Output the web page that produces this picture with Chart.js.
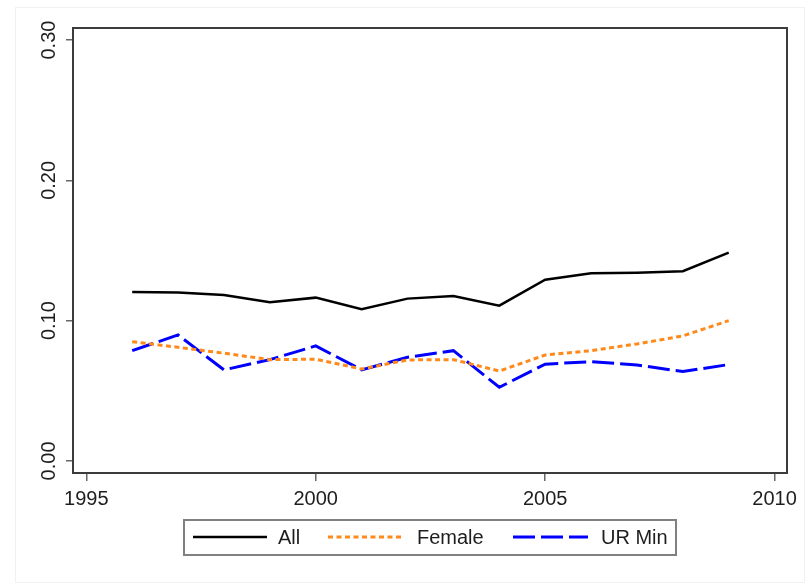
<!DOCTYPE html>
<html>
<head>
<meta charset="utf-8">
<script src="https://cdn.jsdelivr.net/npm/chart.js@4.4.0/dist/chart.umd.min.js"></script>
<style>
  html, body { margin:0; padding:0; background:#ffffff; }
  #wrap { position:relative; width:808px; height:585px; }
  #frame { position:absolute; left:15px; top:7px; width:790px; height:576px; border:1px solid #f1f1f1; box-sizing:border-box; }
  canvas { position:absolute; left:0; top:0; }
</style>
</head>
<body>
<div id="wrap">
  <div id="frame"></div>
  <canvas id="c" width="808" height="585"></canvas>
</div>
<script>
// ---- data ----
const years = [1996, 1997, 1998, 1999, 2000, 2001, 2002, 2003, 2004, 2005, 2006, 2007, 2008, 2009];
const allValues    = [0.1205, 0.1200, 0.1183, 0.1131, 0.1164, 0.1081, 0.1157, 0.1176, 0.1107, 0.1292, 0.1338, 0.1342, 0.1352, 0.1485];
const femaleValues = [0.0850, 0.0810, 0.0768, 0.0722, 0.0725, 0.0655, 0.0720, 0.0722, 0.0641, 0.0755, 0.0786, 0.0834, 0.0891, 0.1000];
const urMinValues  = [0.0786, 0.0898, 0.0649, 0.0722, 0.0820, 0.0649, 0.0739, 0.0786, 0.0525, 0.0690, 0.0708, 0.0684, 0.0637, 0.0687];
const seriesNames = ['All', 'Female', 'UR Min'];
const xTickValues = [1995, 2000, 2005, 2010];
const yTickValues = [0.00, 0.10, 0.20, 0.30];
const yTickLabels = ['0.00', '0.10', '0.20', '0.30'];

const FONT = '"Liberation Sans", Arial, sans-serif';
const TEXT = '#1e1e1e';

function pts(vals) { return years.map((y, i) => ({ x: y, y: vals[i] })); }

const boxAndLabels = {
  id: 'boxAndLabels',
  afterDraw(chart) {
    const ctx = chart.ctx;
    const a = chart.chartArea;
    // plot region frame
    ctx.save();
    ctx.strokeStyle = '#3c3c3c';
    ctx.lineWidth = 2;
    ctx.strokeRect(a.left, a.top, a.right - a.left, a.bottom - a.top);
    ctx.restore();

    // rotated y tick labels
    const ys = chart.scales.y;
    ctx.save();
    ctx.fillStyle = TEXT;
    ctx.font = '20px ' + FONT;
    ctx.textAlign = 'center';
    ctx.textBaseline = 'middle';
    yTickValues.forEach((v, i) => {
      const py = ys.getPixelForValue(v);
      ctx.save();
      ctx.translate(49, py);
      ctx.rotate(-Math.PI / 2);
      ctx.fillText(yTickLabels[i], 0, 0);
      ctx.restore();
    });
    ctx.restore();

    // legend
    ctx.save();
    ctx.strokeStyle = '#808080';
    ctx.lineWidth = 2;
    ctx.strokeRect(184, 520, 492, 35);
    const items = [
      { x0: 193, x1: 267, tx: 278 },
      { x0: 328, x1: 402, tx: 417 },
      { x0: 513, x1: 588, tx: 601 }
    ];
    const ly = 537;
    chart.data.datasets.forEach((ds, i) => {
      const it = items[i];
      ctx.save();
      ctx.strokeStyle = ds.borderColor;
      ctx.lineWidth = ds.borderWidth;
      ctx.setLineDash(ds.borderDash || []);
      ctx.beginPath();
      ctx.moveTo(it.x0, ly);
      ctx.lineTo(it.x1, ly);
      ctx.stroke();
      ctx.restore();
      ctx.fillStyle = TEXT;
      ctx.font = '20px ' + FONT;
      ctx.textAlign = 'left';
      ctx.textBaseline = 'alphabetic';
      ctx.fillText(ds.label, it.tx, 544);
    });
    ctx.restore();
  }
};

new Chart(document.getElementById('c'), {
  type: 'line',
  data: {
    datasets: [
      { label: seriesNames[0], data: pts(allValues), borderColor: '#000000', borderWidth: 2.5, borderDash: [], pointRadius: 0, tension: 0, fill: false },
      { label: seriesNames[1], data: pts(femaleValues), borderColor: '#ff8a1c', borderWidth: 3, borderDash: [5, 3.5], pointRadius: 0, tension: 0, fill: false },
      { label: seriesNames[2], data: pts(urMinValues), borderColor: '#0000ff', borderWidth: 3, borderDash: [22, 6], pointRadius: 0, tension: 0, fill: false }
    ]
  },
  options: {
    responsive: false,
    animation: false,
    events: [],
    layout: { padding: { left: 0, top: 28, right: 21, bottom: 0 } },
    plugins: { legend: { display: false }, tooltip: { enabled: false }, title: { display: false } },
    scales: {
      x: {
        type: 'linear',
        min: 1994.71,
        max: 2010.27,
        afterBuildTicks(s) { s.ticks = xTickValues.map(v => ({ value: v })); },
        afterFit(s) { s.height = 112; },
        border: { display: false },
        grid: { drawOnChartArea: false, drawTicks: true, tickLength: 8, color: '#666666', lineWidth: 1.5 },
        ticks: { color: TEXT, font: { family: FONT, size: 20 }, padding: 6, maxRotation: 0, autoSkip: false, callback: v => String(v) }
      },
      y: {
        type: 'linear',
        min: -0.0086,
        max: 0.3086,
        afterBuildTicks(s) { s.ticks = yTickValues.map(v => ({ value: v })); },
        afterFit(s) { s.width = 73; },
        border: { display: false },
        grid: { drawOnChartArea: false, drawTicks: true, tickLength: 7, color: '#666666', lineWidth: 1.5 },
        ticks: { display: false }
      }
    }
  },
  plugins: [boxAndLabels]
});
</script>
</body>
</html>
